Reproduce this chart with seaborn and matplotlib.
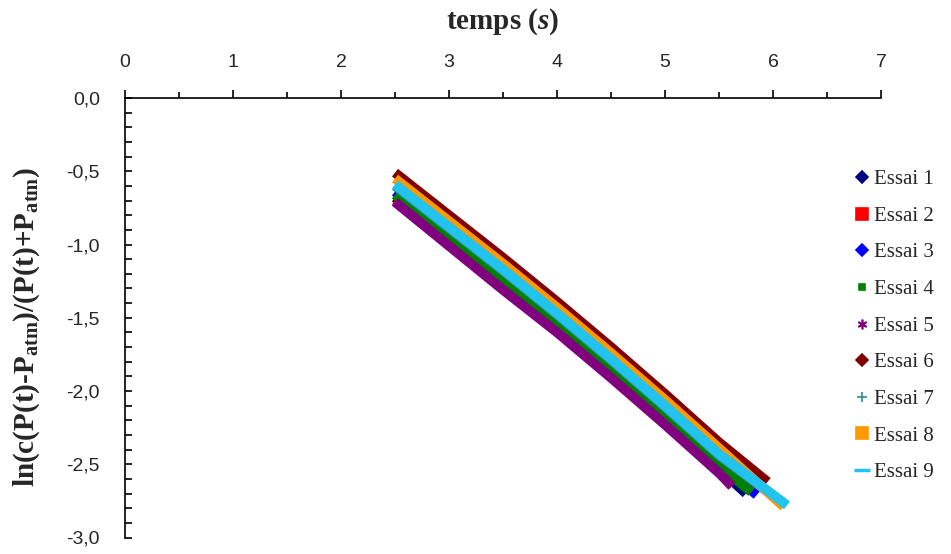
import numpy as np
import pandas as pd
import matplotlib
matplotlib.use("Agg")
import matplotlib.pyplot as plt
from matplotlib.lines import Line2D
from matplotlib.ticker import MultipleLocator, FuncFormatter
import seaborn as sns

# values (time in s, ln ratio)
labels = ["Essai 1", "Essai 2", "Essai 3", "Essai 4", "Essai 5",
          "Essai 6", "Essai 7", "Essai 8", "Essai 9"]

t_e1 = [2.5, 3.0, 3.5, 4.0, 4.5, 5.0, 5.5, 5.75]
y_e1 = [-0.68, -0.98, -1.27, -1.57, -1.88, -2.20, -2.53, -2.70]
t_e2 = [2.5, 3.0, 3.5, 4.0, 4.5, 5.0, 5.5, 5.62]
y_e2 = [-0.70, -1.00, -1.30, -1.59, -1.90, -2.22, -2.55, -2.65]
t_e3 = [2.5, 3.0, 3.5, 4.0, 4.5, 5.0, 5.5, 5.85]
y_e3 = [-0.64, -0.94, -1.23, -1.53, -1.84, -2.16, -2.49, -2.71]
t_e4 = [2.5, 3.0, 3.5, 4.0, 4.5, 5.0, 5.5, 5.80]
y_e4 = [-0.66, -0.96, -1.25, -1.55, -1.86, -2.18, -2.51, -2.69]
t_e5 = [2.5, 3.0, 3.5, 4.0, 4.5, 5.0, 5.5, 5.62]
y_e5 = [-0.71, -1.01, -1.31, -1.60, -1.91, -2.23, -2.56, -2.65]
t_e6 = [2.5, 3.0, 3.5, 4.0, 4.5, 5.0, 5.5, 5.95]
y_e6 = [-0.51, -0.80, -1.09, -1.39, -1.70, -2.02, -2.35, -2.62]
t_e7 = [2.5, 3.0, 3.5, 4.0, 4.5, 5.0, 5.5, 6.10]
y_e7 = [-0.60, -0.89, -1.18, -1.48, -1.79, -2.11, -2.44, -2.77]
t_e8 = [2.5, 3.0, 3.5, 4.0, 4.5, 5.0, 5.5, 6.10]
y_e8 = [-0.55, -0.84, -1.13, -1.43, -1.74, -2.06, -2.39, -2.79]
t_e9 = [2.5, 3.0, 3.5, 4.0, 4.5, 5.0, 5.5, 6.13]
y_e9 = [-0.59, -0.88, -1.17, -1.47, -1.78, -2.10, -2.43, -2.78]

colors = ["#000080", "#FF0000", "#0000FF", "#008000", "#800080",
          "#800000", "#2E8B8B", "#FF9900", "#22C3EE"]
markers = ["D", "s", "D", "s", (6, 2, 0), "D", "+", "s", "_"]
msizes = [6, 8, 6, 5, 7, 6, 7, 8, 11]

ts = [t_e1, t_e2, t_e3, t_e4, t_e5, t_e6, t_e7, t_e8, t_e9]
ys = [y_e1, y_e2, y_e3, y_e4, y_e5, y_e6, y_e7, y_e8, y_e9]
frames = [pd.DataFrame({"temps": t, "val": y, "essai": lab})
          for t, y, lab in zip(ts, ys, labels)]
df = pd.concat(frames, ignore_index=True)

sns.set_style("white")
plt.rcParams["font.family"] = ["Liberation Sans", "DejaVu Sans"]
plt.rcParams["mathtext.fontset"] = "custom"
plt.rcParams["mathtext.rm"] = "Liberation Serif:bold"
plt.rcParams["mathtext.it"] = "Liberation Serif:italic:bold"
plt.rcParams["mathtext.bf"] = "Liberation Serif:bold"

fig = plt.figure(figsize=(9.51, 5.54), dpi=100)
ax = fig.add_axes([125 / 951, 1 - 537.5 / 554, 756 / 951, 439.5 / 554])

sns.lineplot(data=df, x="temps", y="val", hue="essai", hue_order=labels,
             palette=colors, sort=False, estimator=None, lw=7,
             legend=False, ax=ax, solid_capstyle="butt", solid_joinstyle="round")

ax.set_xlim(0, 7)
ax.set_ylim(-3, 0)

# axis on top, y axis on left
for side in ["right", "bottom"]:
    ax.spines[side].set_visible(False)
for side in ["top", "left"]:
    ax.spines[side].set_color("black")
    ax.spines[side].set_linewidth(1.2)

ax.xaxis.tick_top()
ax.xaxis.set_label_position("top")
ax.xaxis.set_major_locator(MultipleLocator(1))
ax.xaxis.set_minor_locator(MultipleLocator(0.5))
ax.yaxis.set_major_locator(MultipleLocator(0.5))
ax.yaxis.set_minor_locator(MultipleLocator(0.1))
ax.yaxis.set_major_formatter(FuncFormatter(
    lambda v, p: ("%.1f" % (v + 0.0)).replace(".", ",").replace("-0,0", "0,0")))

ax.tick_params(axis="x", which="both", direction="out", top=True, bottom=False,
               labeltop=True, labelbottom=False, color="black", width=1.2)
ax.tick_params(axis="x", which="major", length=6, pad=13.5, labelsize=14)
ax.tick_params(axis="x", which="minor", length=4)
ax.tick_params(axis="y", which="both", direction="in", left=True, color="black",
               width=1.2, length=5)
ax.tick_params(axis="y", which="major", pad=18, labelsize=14)

ax.set_xlabel("temps ($\\mathit{s}$)", family="Liberation Serif",
              fontweight="bold", fontsize=21, labelpad=18)
ax.set_ylabel("ln(c(P(t)-P$_{\\mathrm{atm}}$)/(P(t)+P$_{\\mathrm{atm}}$)",
              family="Liberation Serif", fontweight="bold", fontsize=21)
ax.yaxis.set_label_coords(-(125 - 42) / 756, 0.48)

handles = [Line2D([], [], ls="none", marker=m, color=c, markersize=s,
                  markeredgewidth=2.5 if m == "_" else 1.2)
           for m, c, s in zip(markers, colors, msizes)]
fig.legend(handles, labels, loc="center left", bbox_to_anchor=(845 / 951, 1 - 326 / 554),
           frameon=False, borderpad=0, handlelength=0.6, handletextpad=0.3,
           labelspacing=0.82, prop={"family": "Liberation Serif", "size": 15})

fig.savefig("out.png", dpi=100)
